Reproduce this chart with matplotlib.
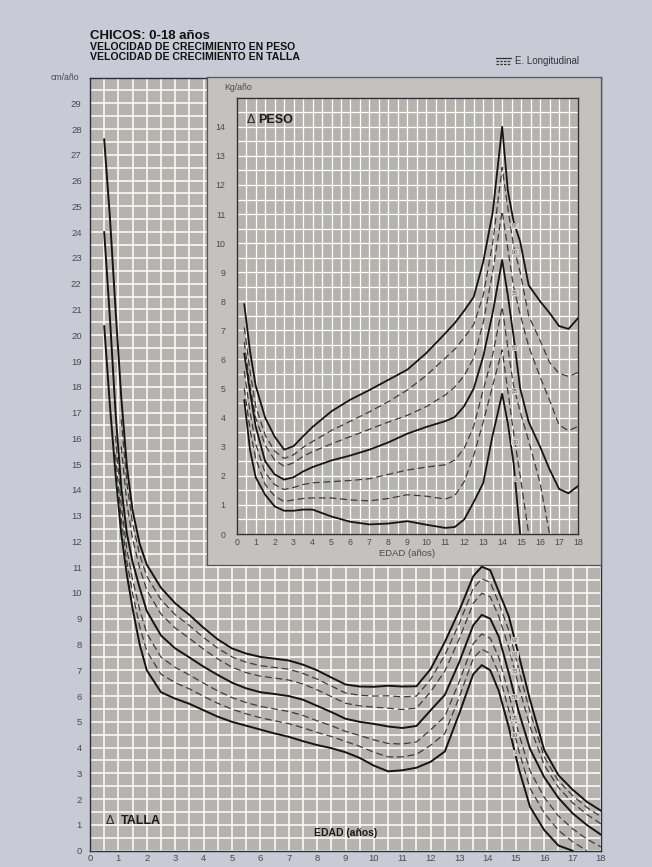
import numpy as np
from matplotlib import pyplot as plt
from matplotlib.lines import Line2D
from matplotlib.ticker import MultipleLocator

nan = np.nan

# ---- velocidad de crecimiento en talla (cm/año) ----
edad_talla = [0.5, 0.7, 0.9, 1.1, 1.3, 1.5, 1.75, 2.0, 2.5, 3.0, 3.5, 4.0, 4.5, 5.0,
              5.5, 6.0, 6.5, 7.0, 7.5, 8.0, 8.5, 9.0, 9.5, 10.0, 10.5, 11.0, 11.5,
              12.0, 12.5, 13.0, 13.5, 13.8, 14.1, 14.4, 14.75, 15.1, 15.5, 16.0,
              16.5, 17.0, 17.5, 18.0]
talla_p97 = [27.6, 24.6, 21.0, 17.6, 14.9, 13.2, 11.9, 11.1, 10.2, 9.6, 9.15, 8.65,
             8.2, 7.85, 7.65, 7.52, 7.45, 7.38, 7.22, 7.0, 6.72, 6.45, 6.37, 6.36,
             6.4, 6.37, 6.38, 7.05, 8.1, 9.3, 10.65, 11.02, 10.88, 10.05, 9.1, 7.6,
             5.85, 3.9, 2.93, 2.37, 1.9, 1.55]
talla_p90 = [nan, nan, nan, 16.73, 14.25, 12.7, 11.48, 10.65, 9.74, 9.16, 8.74, 8.27,
             7.86, 7.52, 7.31, 7.18, 7.11, 7.04, 6.88, 6.66, 6.39, 6.12, 6.03, 6.0,
             6.01, 5.97, 6.0, 6.65, 7.59, 8.8, 10.18, 10.55, 10.41, 9.61, 8.55, 7.05,
             5.38, 3.64, 2.71, 2.14, 1.68, 1.32]
talla_p75 = [nan, nan, nan, 15.68, 13.47, 12.1, 10.97, 10.11, 9.18, 8.64, 8.24, 7.82,
             7.44, 7.12, 6.91, 6.77, 6.70, 6.62, 6.47, 6.24, 5.98, 5.72, 5.62, 5.57,
             5.53, 5.48, 5.53, 6.17, 6.97, 8.2, 9.6, 9.99, 9.85, 9.09, 7.89, 6.39,
             4.81, 3.32, 2.45, 1.86, 1.41, 1.04]
talla_p50 = [24.0, 20.7, 17.0, 14.1, 12.3, 11.2, 10.2, 9.3, 8.35, 7.85, 7.5, 7.14,
             6.82, 6.52, 6.3, 6.15, 6.08, 6.0, 5.86, 5.62, 5.38, 5.12, 5.0, 4.92,
             4.82, 4.76, 4.84, 5.45, 6.05, 7.3, 8.75, 9.15, 9.0, 8.3, 6.9, 5.4,
             3.95, 2.85, 2.05, 1.45, 1.0, 0.62]
talla_p25 = [nan, nan, 16.09, 13.42, 11.69, 10.52, 9.36, 8.43, 7.51, 7.11, 6.82, 6.5,
             6.2, 5.94, 5.75, 5.6, 5.5, 5.4, 5.25, 5.04, 4.85, 4.63, 4.47, 4.3,
             4.16, 4.14, 4.22, 4.69, 5.21, 6.54, 8.03, 8.41, 8.24, 7.5, 6.1, 4.56,
             3.1, 2.07, 1.35, 0.85, 0.45, 0.15]
talla_p10 = [nan, nan, 15.37, 12.88, 11.21, 9.98, 8.7, 7.74, 6.85, 6.52, 6.28, 5.99,
             5.72, 5.49, 5.31, 5.16, 5.04, 4.93, 4.77, 4.59, 4.43, 4.24, 4.05, 3.82,
             3.64, 3.64, 3.74, 4.09, 4.55, 5.94, 7.46, 7.82, 7.64, 6.87, 5.47, 3.9,
             2.42, 1.46, 0.79, 0.35, 0.0, nan]
talla_p3 = [20.35, 17.3, 14.6, 12.3, 10.7, 9.4, 8.0, 7.0, 6.15, 5.9, 5.7, 5.45,
            5.2, 5.0, 4.85, 4.7, 4.55, 4.42, 4.25, 4.1, 3.98, 3.82, 3.6, 3.3,
            3.08, 3.12, 3.22, 3.45, 3.85, 5.3, 6.85, 7.2, 7.0, 6.2, 4.8, 3.2,
            1.7, 0.8, 0.2, 0.0, nan, nan]

# ---- velocidad de crecimiento en peso (kg/año) ----
edad_peso = [0.4, 0.7, 1.0, 1.5, 2.0, 2.5, 3.0, 3.5, 4.0, 5.0, 6.0, 7.0, 8.0, 9.0,
             10.0, 11.0, 11.5, 12.0, 12.5, 13.0, 13.5, 14.0, 14.3, 14.6, 14.95,
             15.4, 16.0, 16.5, 17.0, 17.5, 18.0]
peso_p97 = [7.9, 6.3, 5.1, 4.0, 3.35, 2.9, 3.02, 3.36, 3.68, 4.22, 4.62, 4.95, 5.3,
            5.65, 6.22, 6.9, 7.25, 7.68, 8.15, 9.35, 11.05, 14.0, 11.8, 10.75,
            10.05, 8.55, 8.0, 7.6, 7.15, 7.05, 7.42]
peso_p90 = [7.1, 5.6, 4.4, 3.4, 2.85, 2.6, 2.72, 2.98, 3.18, 3.56, 3.88, 4.2, 4.55,
            4.95, 5.45, 6.05, 6.35, 6.75, 7.2, 8.2, 10.0, 12.6, 11.2, 9.9, 9.0,
            7.5, 6.65, 5.9, 5.52, 5.42, 5.55]
peso_p75 = [6.6, 5.1, 4.0, 3.05, 2.55, 2.33, 2.45, 2.67, 2.83, 3.1, 3.35, 3.6, 3.85,
            4.08, 4.38, 4.78, 5.05, 5.45, 6.05, 7.26, 9.0, 11.1, 9.8, 8.5, 7.55,
            6.45, 5.4, 4.6, 3.75, 3.55, 3.7]
peso_p50 = [6.2, 4.9, 3.7, 2.5, 2.05, 1.87, 1.95, 2.15, 2.3, 2.53, 2.7, 2.9, 3.15,
            3.45, 3.68, 3.88, 4.02, 4.4, 5.0, 6.1, 7.6, 9.42, 8.2, 6.8, 5.0,
            3.85, 3.0, 2.22, 1.55, 1.4, 1.65]
peso_p25 = [5.6, 4.2, 3.1, 2.1, 1.7, 1.53, 1.6, 1.7, 1.76, 1.8, 1.84, 1.9, 2.05,
            2.2, 2.3, 2.38, 2.54, 2.95, 3.7, 4.95, 6.15, 7.81, 6.4, 5.1, 4.2,
            3.2, 1.75, 0.0, nan, nan, nan]
peso_p10 = [5.0, 3.6, 2.6, 1.7, 1.3, 1.12, 1.17, 1.22, 1.24, 1.24, 1.17, 1.14, 1.22,
            1.35, 1.3, 1.2, 1.32, 1.8, 2.7, 3.85, 5.1, 6.33, 4.9, 3.5, 2.0,
            0.0, nan, nan, nan, nan, nan]
peso_p3 = [4.6, 2.9, 1.95, 1.35, 0.95, 0.8, 0.8, 0.84, 0.84, 0.6, 0.42, 0.33, 0.36,
           0.44, 0.32, 0.21, 0.24, 0.5, 1.1, 1.75, 3.4, 4.82, 3.8, 2.45, 0.0,
           nan, nan, nan, nan, nan, nan]

percentiles = ["97", "90", "75", "50", "25", "10", "3"]

W, H = 652, 867
FIG_BG = "#c8cbd6"
AX_BG = "#b6b3af"
BOX_BG = "#c4c2be"
FONT = ["Liberation Sans", "DejaVu Sans"]


def box(left, top, right, bottom):
    """pixel box -> figure fraction rect"""
    return [left / W, 1 - bottom / H, (right - left) / W, (bottom - top) / H]


def style_grid(ax, xmax, ymax, lw):
    ax.set_facecolor(AX_BG)
    ax.set_xlim(0, xmax)
    ax.set_ylim(0, ymax)
    ax.xaxis.set_major_locator(MultipleLocator(1))
    ax.yaxis.set_major_locator(MultipleLocator(1))
    ax.xaxis.set_minor_locator(MultipleLocator(0.5))
    ax.yaxis.set_minor_locator(MultipleLocator(0.5))
    ax.grid(which="both", color="white", lw=lw)
    ax.set_axisbelow(True)
    ax.tick_params(which="both", length=0, labelsize=6.8, labelcolor="#4a4a4a")
    for s in ax.spines.values():
        s.set_color("#2e2e36")
        s.set_linewidth(1.0)


def draw_curves(ax, x, curves, lw_solid, lw_dash):
    for name, y in curves:
        if name in ("97", "50", "3"):
            ax.plot(x, y, color="#151515", lw=lw_solid, zorder=3)
        else:
            ax.plot(x, y, color="#3c3c3c", lw=lw_dash, ls=(0, (5.5, 3)), zorder=3)


def label_curves(ax, x, curves, at, size):
    for name, y in curves:
        v = np.interp(at, x, np.nan_to_num(np.array(y, dtype=float)))
        ax.text(at, v, name, fontsize=size, color="#666666", ha="center",
                va="center", zorder=4,
                bbox=dict(boxstyle="square,pad=0.15", fc="#cfcdc9", ec="none"))


def main():
    """Main function"""
    plt.rcParams["font.family"] = FONT
    fig = plt.figure(figsize=(W / 100, H / 100), dpi=100, facecolor=FIG_BG)

    # ---- talla ----
    ax = fig.add_axes(box(90, 77.5, 601, 850.7))
    style_grid(ax, 18, 30, 1.1)
    ax.set_yticks(range(0, 30))
    ax.set_xticks(range(0, 19))
    ax.tick_params(axis="y", pad=6)
    ax.tick_params(axis="x", pad=2.5)
    talla = list(zip(percentiles, [talla_p97, talla_p90, talla_p75, talla_p50,
                                   talla_p25, talla_p10, talla_p3]))
    draw_curves(ax, edad_talla, talla, 1.4, 0.9)
    label_curves(ax, edad_talla, talla, 14.97, 4)
    ax.text(0.55, 1.15, "\u0394", fontsize=9, color="#222222", va="center")
    ax.text(1.1, 1.15, "TALLA", fontsize=9, fontweight="bold", color="#1a1a1a",
            va="center")
    ax.text(9.0, 0.7, "EDAD (años)", fontsize=7.5, fontweight="bold",
            color="#1a1a1a", ha="center", va="center")

    # ---- peso (recuadro) ----
    frame = fig.add_axes(box(207, 77, 601, 565))
    frame.set_facecolor(BOX_BG)
    frame.set_xticks([])
    frame.set_yticks([])
    for s in frame.spines.values():
        s.set_color("#55555a")
        s.set_linewidth(0.9)

    ins = fig.add_axes(box(236.7, 97.7, 578, 534))
    style_grid(ins, 18, 15, 0.9)
    ins.set_yticks(range(0, 15))
    ins.set_xticks(range(0, 19))
    ins.tick_params(axis="y", pad=8, labelsize=6.3)
    ins.tick_params(axis="x", pad=3, labelsize=6.3)
    peso = list(zip(percentiles, [peso_p97, peso_p90, peso_p75, peso_p50,
                                  peso_p25, peso_p10, peso_p3]))
    draw_curves(ins, edad_peso, peso, 1.3, 0.9)
    label_curves(ins, edad_peso, peso, 14.68, 3.8)
    ins.text(0.5, 14.25, "\u0394", fontsize=9, color="#222222", va="center")
    ins.text(1.15, 14.25, "PESO", fontsize=9, fontweight="bold", color="#1a1a1a",
             va="center")
    ins.set_xlabel("EDAD (años)", fontsize=6.8, color="#4a4a4a", labelpad=1)

    fig.text(238 / W, 1 - 88 / H, "Kg/año", fontsize=6.3, color="#4a4a4a",
             ha="center", va="center")
    fig.text(65 / W, 1 - 77 / H, "cm/año", fontsize=6.3, color="#4a4a4a",
             ha="center", va="center")

    # ---- titulos ----
    fig.text(90 / W, 1 - 36 / H, "CHICOS: 0-18 años", fontsize=9.5,
             fontweight="bold", color="#111111", va="center")
    fig.text(90 / W, 1 - 47.5 / H, "VELOCIDAD DE CRECIMIENTO EN PESO",
             fontsize=7.6, fontweight="bold", color="#111111", va="center")
    fig.text(90 / W, 1 - 57 / H, "VELOCIDAD DE CRECIMIENTO EN TALLA",
             fontsize=7.6, fontweight="bold", color="#111111", va="center")

    # leyenda
    for yy, ls in ((57.5, "-"), (60.5, (0, (2, 1))), (63.5, (0, (2, 1)))):
        fig.add_artist(Line2D([496 / W, 511 / W], [1 - yy / H, 1 - yy / H],
                              color="#333333", lw=0.9, ls=ls))
    fig.text(515 / W, 1 - 60.5 / H, "E. Longitudinal", fontsize=7,
             color="#333333", va="center")

    plt.savefig("out.png", dpi=100, facecolor=FIG_BG)


if __name__ == "__main__":
    main()
